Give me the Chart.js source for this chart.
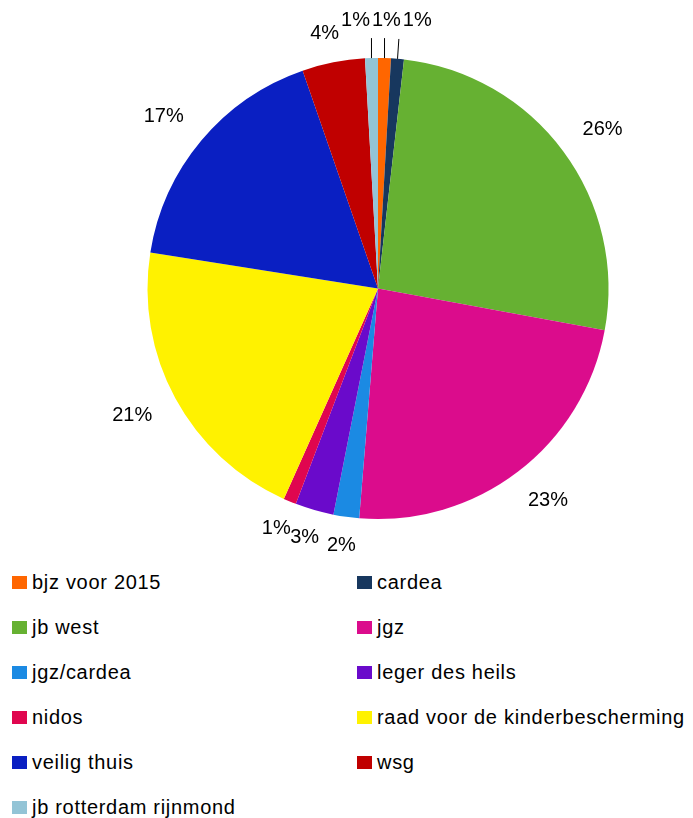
<!DOCTYPE html>
<html>
<head>
<meta charset="utf-8">
<script src="https://cdn.jsdelivr.net/npm/chart.js@4.4.0/dist/chart.umd.min.js"></script>
<style>
    body { margin: 0; background: #fff; }
    #wrap { position: relative; width: 693px; height: 818px; }
    #legend {
        position: absolute; left: 12px; top: 560px;
        display: grid; grid-template-columns: 345px auto; grid-auto-rows: 45px;
        font: 20px "Liberation Sans", Arial, sans-serif; color: #000;
        letter-spacing: 0.7px;
    }
    .item { display: flex; align-items: center; white-space: nowrap; }
    .box { width: 15px; height: 13px; margin-right: 5px; flex: none; }
</style>
</head>
<body>
<div id="wrap">
    <canvas id="chartPie" width="693" height="560"></canvas>
    <div id="legend"></div>
</div>
<script>
const categories = ["bjz voor 2015", "cardea", "jb west", "jgz", "jgz/cardea", "leger des heils",
    "nidos", "raad voor de kinderbescherming", "veilig thuis", "wsg", "jb rotterdam rijnmond"];
const shares = [0.9, 0.9, 26.1, 23.4, 1.8, 2.7, 0.9, 20.8, 17.2, 4.4, 0.9];
const sliceColors = ["#FF6600", "#17375E", "#66B132", "#DB0C8C", "#1B8AE3", "#6A0ACB",
    "#E0064F", "#FFF200", "#0A1FC2", "#C00000", "#93C4D6"];

const labelFont = '20px "Liberation Sans", Arial, sans-serif';

// percentage labels outside the pie, small crowded ones get pushed apart with a leader line
const outsideLabels = {
    id: "outsideLabels",
    afterDatasetsDraw(chart) {
        const ctx = chart.ctx;
        const meta = chart.getDatasetMeta(0);
        const total = shares.reduce((a, b) => a + b, 0);
        ctx.save();
        ctx.font = labelFont;
        const items = meta.data.map((arc, i) => {
            const p = arc.getProps(["x", "y", "startAngle", "endAngle", "outerRadius"], true);
            const a = (p.startAngle + p.endAngle) / 2;
            const c = Math.cos(a), s = Math.sin(a);
            const text = Math.round(shares[i] / total * 100) + "%";
            const w = ctx.measureText(text).width;
            const h = 16;
            const d = p.outerRadius + 21 + Math.max(0, w - 30) * 0.8;
            return { text, w, h, c, s, p, x: p.x + c * d + c * w / 2, y: p.y + s * d + s * h / 2 };
        });

        const overlapX = (A, B) => (A.w + B.w) / 2 - Math.abs(A.x - B.x);
        const overlapY = (A, B) => (A.h + B.h) / 2 - Math.abs(A.y - B.y);

        items.forEach((A, i) => items.forEach((B, j) => {
            if (i < j && overlapX(A, B) > 6 && overlapY(A, B) > 0) { A.crowded = true; B.crowded = true; }
        }));
        items.filter(t => t.crowded).forEach(t => { t.x += t.c * 9; t.y += t.s * 9; });

        for (let k = 0; k < 60; k++) {
            for (let i = 0; i < items.length; i++) {
                for (let j = i + 1; j < items.length; j++) {
                    const A = items[i], B = items[j];
                    if (!(A.crowded || B.crowded)) continue;
                    const need = overlapX(A, B) + 2;
                    if (need <= 0 || overlapY(A, B) <= 0) continue;
                    const dir = A.x < B.x ? -1 : 1;
                    A.x += dir * need / 2;
                    B.x -= dir * need / 2;
                }
            }
        }

        ctx.strokeStyle = "#000";
        ctx.lineWidth = 1;
        items.filter(t => t.crowded).forEach(t => {
            const sx = t.p.x + t.c * t.p.outerRadius;
            const sy = t.p.y + t.s * t.p.outerRadius;
            const pad = 10;
            const ex = Math.min(Math.max(sx, t.x - t.w / 2 - 4), t.x + t.w / 2 + 4);
            const ey = Math.min(Math.max(sy, t.y - t.h / 2 - pad), t.y + t.h / 2 + pad);
            ctx.beginPath();
            ctx.moveTo(sx, sy);
            ctx.lineTo(ex, ey);
            ctx.stroke();
        });

        ctx.fillStyle = "#000";
        ctx.textAlign = "center";
        ctx.textBaseline = "middle";
        items.forEach(t => ctx.fillText(t.text, t.x, t.y));
        ctx.restore();
    }
};

new Chart(document.getElementById("chartPie"), {
    type: "pie",
    data: {
        labels: categories,
        datasets: [{
            data: shares,
            backgroundColor: sliceColors,
            borderWidth: 0
        }]
    },
    options: {
        responsive: false,
        animation: false,
        layout: { padding: { left: 147, right: 84, top: 58, bottom: 41 } },
        plugins: {
            legend: { display: false },
            tooltip: { enabled: false }
        }
    },
    plugins: [outsideLabels]
});

const legend = document.getElementById("legend");
categories.forEach((name, i) => {
    const item = document.createElement("div");
    item.className = "item";
    const box = document.createElement("span");
    box.className = "box";
    box.style.background = sliceColors[i];
    item.appendChild(box);
    item.appendChild(document.createTextNode(name));
    legend.appendChild(item);
});
</script>
</body>
</html>
